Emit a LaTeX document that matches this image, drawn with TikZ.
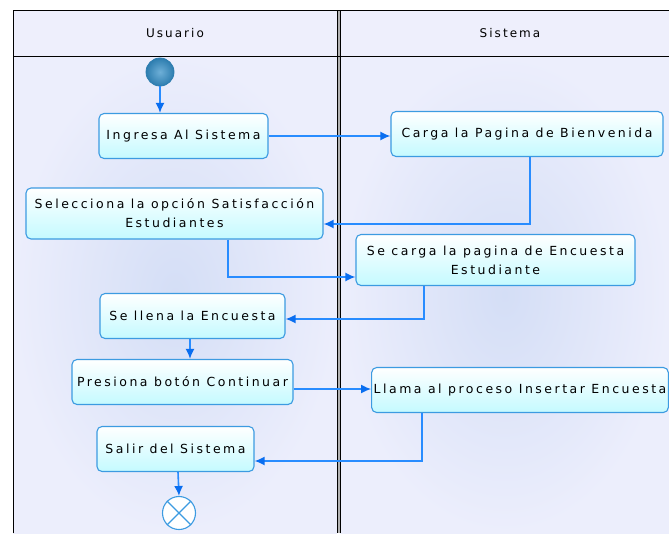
\documentclass[tikz,border=0pt]{standalone}
\usepackage{fontspec}
\newfontfamily\umlfont[LetterSpace=20]{DejaVu Sans}
\newfontfamily\headfont[LetterSpace=17]{DejaVu Sans}
\usetikzlibrary{arrows.meta, positioning, calc}

\definecolor{lanefill}{RGB}{236,238,252}
\definecolor{laneglow}{RGB}{212,222,246}
\definecolor{headfill}{RGB}{238,239,252}
\definecolor{flowblue}{RGB}{40,140,255}
\definecolor{tipblue}{RGB}{10,110,240}
\definecolor{boxline}{RGB}{60,155,225}
\definecolor{boxcyan}{RGB}{196,250,255}
\definecolor{startlight}{RGB}{110,175,215}
\definecolor{startdark}{RGB}{45,125,175}

\tikzset{
  act/.style={draw=boxline, line width=1.1pt, rounded corners=5pt,
    top color=white, bottom color=boxcyan, align=center,
    font=\umlfont\fontsize{12.5}{19}\selectfont, inner xsep=2pt, inner ysep=4pt,
    minimum height=45pt},
  flow/.style={draw=flowblue, line width=1.6pt,
    -{Latex[length=10pt, width=9pt, color=tipblue]}},
  lanehead/.style={font=\headfont\fontsize{12}{14}\selectfont}
}

\begin{document}
\begin{tikzpicture}[x=1pt, y=-1pt]
  \useasboundingbox (0,0) rectangle (669,533);
  % Lanes
  \shade[inner color=laneglow, outer color=lanefill] (13,56) rectangle (337,533);
  \shade[inner color=laneglow, outer color=lanefill] (340,56) rectangle (669,533);
  \fill[headfill] (13,10) rectangle (669,56);
  \fill[black!30] (337,10) rectangle (340,533);
  \draw[line width=1pt] (13,533) -- (13,10) -- (669,10);
  \draw[line width=1pt] (13,56) -- (669,56);
  \draw[line width=1pt] (337,10) -- (337,533);
  \draw[line width=1pt] (340,10) -- (340,533);
  \node[lanehead] (usuario) at (175,33) {Usuario};
  \node[lanehead] (sistema) at (510,33) {Sistema};
  % Start and end
  \node[circle, draw=startdark, line width=0.8pt, minimum size=28pt,
    inner color=startlight, outer color=startdark] (start) at (160,72) {};
  \node[circle, draw=boxline, line width=1.1pt, fill=white, minimum size=33pt] (fin) at (179,513) {};
  \draw[boxline, line width=1.1pt] (fin.45) -- (fin.225) (fin.135) -- (fin.-45);
  % Activities
  \node[act, minimum width=169pt] (ingresa) at (183.5,136) {Ingresa Al Sistema};
  \node[act, minimum width=272pt] (carga) at (527,134) {Carga la Pagina de Bienvenida};
  \node[act, minimum width=297pt, minimum height=51pt] (selec) at (174.5,213.5)
    {Selecciona la opción Satisfacción\\Estudiantes};
  \node[act, minimum width=279pt, minimum height=51pt] (secarga) at (495.5,260)
    {Se carga la pagina de Encuesta\\Estudiante};
  \node[act, minimum width=185pt] (llena) at (192.5,316) {Se llena la Encuesta};
  \node[act, minimum width=221pt] (presiona) at (182.5,382) {Presiona botón Continuar};
  \node[act, minimum width=296pt] (llama) at (520,390) {Llama al proceso Insertar Encuesta};
  \node[act, minimum width=157pt] (salir) at (175.5,449) {Salir del Sistema};
  % Flows
  \draw[flow] (start.south) -- (start.south |- ingresa.north);
  \draw[flow] (ingresa.east) -- (ingresa.east -| carga.west);
  \draw[flow] ([xshift=3pt]carga.south) |- ([yshift=-10.5pt]selec.east);
  \draw[flow] ([xshift=53.5pt]selec.south) |- ([yshift=-17pt]secarga.west);
  \draw[flow] ([xshift=-71.5pt]secarga.south) |- ([yshift=-3pt]llena.east);
  \draw[flow] ([xshift=-2.5pt]llena.south) -- ([xshift=-2.5pt]llena.south |- presiona.north);
  \draw[flow] ([yshift=-7pt]presiona.east) -- ([yshift=-7pt]presiona.east -| llama.west);
  \draw[flow] ([xshift=-98pt]llama.south) |- ([yshift=-12pt]salir.east);
  \draw[flow] ([xshift=2.5pt]salir.south) -- (fin.north);
\end{tikzpicture}
\end{document}
